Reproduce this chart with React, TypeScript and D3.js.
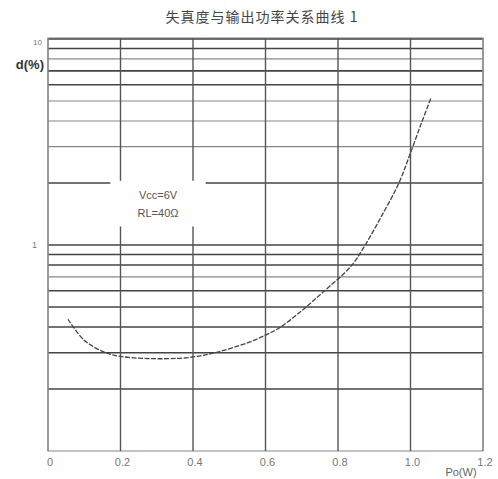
import React from 'react';
import * as d3 from 'd3';

// curve: output power (W) vs distortion (%)
const powerW = [0.055, 0.1, 0.157, 0.2, 0.276, 0.386, 0.46, 0.55, 0.6, 0.64, 0.7, 0.756, 0.836, 0.875, 0.92, 0.968, 1.0, 1.03, 1.057];
const distortion = [0.436, 0.345, 0.301, 0.288, 0.281, 0.284, 0.3, 0.335, 0.365, 0.398, 0.48, 0.585, 0.79, 1.0, 1.38, 2.0, 2.8, 3.9, 5.2];

const xTicks = [0, 0.2, 0.4, 0.6, 0.8, 1.0, 1.2];
const xTickLabels = ['0', '0.2', '0.4', '0.6', '0.8', '1.0', '1.2'];
const yGrid = [0.2, 0.3, 0.4, 0.5, 0.6, 0.7, 0.8, 0.9, 1, 2, 3, 4, 5, 6, 7, 8, 9, 10];
const yLight = [3, 4, 5, 8, 0.7];
const yTickLabels = [{ v: 10, t: '10' }, { v: 1, t: '1' }];

const title = '失真度与输出功率关系曲线  1';
const noteLines = ['Vcc=6V', 'RL=40Ω'];

const W = 498;
const H = 479;
const m = { left: 48, right: 483, top: 39, bottom: 451 };

const App: React.FC = () => {
  if (typeof document !== 'undefined') document.body.style.margin = '0';

  const x = d3.scaleLinear().domain([0, 1.2]).range([m.left, m.right]);
  const y = d3.scaleLog().domain([0.1, 10]).range([m.bottom, m.top]);

  const pts: [number, number][] = powerW.map((p, i) => [x(p), y(distortion[i])]);
  const line = d3.line().curve(d3.curveCatmullRom.alpha(0.5))(pts) || '';

  // white patch behind the note, it cuts the grid
  const box = { x0: x(0.172), x1: x(0.435), y0: y(2.05), y1: y(1.23) };

  return (
    <svg width={W} height={H} style={{ display: 'block', background: '#fff' }}>
      <text x={262} y={22} textAnchor="middle" fontFamily="'Noto Sans CJK SC'" fontSize={14} letterSpacing={1} fill="#444">
        {title}
      </text>

      {/* frame */}
      <rect x={m.left} y={m.top - 1} width={m.right - m.left} height={m.bottom - m.top + 1} fill="none" stroke="#999" strokeWidth={1.2} />

      {/* horizontal grid */}
      {yGrid.map(v => (
        <line key={'h' + v} x1={m.left} x2={m.right} y1={y(v)} y2={y(v)}
          stroke={yLight.includes(v) ? '#888' : '#444'} strokeWidth={yLight.includes(v) ? 1.2 : 1.6} />
      ))}

      {/* vertical grid */}
      {xTicks.map(v => (
        <line key={'v' + v} x1={x(v)} x2={x(v)} y1={m.top - 1} y2={m.bottom}
          stroke={v === 0 || v === 1.2 ? '#888' : '#555'} strokeWidth={1.4} />
      ))}

      <rect x={box.x0} y={box.y0} width={box.x1 - box.x0} height={box.y1 - box.y0} fill="#fff" />
      {noteLines.map((t, i) => (
        <text key={t} x={(box.x0 + box.x1) / 2} y={199 + i * 18} textAnchor="middle"
          fontFamily="'Liberation Sans', Arial, sans-serif" fontSize={11} fill="#555">{t}</text>
      ))}

      <path d={line} fill="none" stroke="#444" strokeWidth={1.3} strokeDasharray="5 1.5" />

      {/* axis labels */}
      {xTicks.map((v, i) => (
        <text key={'xl' + v} x={x(v) + 2} y={466} textAnchor="middle"
          fontFamily="'Liberation Sans', Arial, sans-serif" fontSize={11} fill="#777">{xTickLabels[i]}</text>
      ))}
      <text x={461} y={476} textAnchor="middle" fontFamily="'Liberation Sans', Arial, sans-serif" fontSize={11} fill="#666">Po(W)</text>

      {yTickLabels.map(d => (
        <text key={'yl' + d.t} x={d.v === 10 ? 42 : 37} y={y(d.v) + (d.v === 10 ? 6 : 3)} textAnchor="end"
          fontFamily="'Liberation Sans', Arial, sans-serif" fontSize={d.v === 10 ? 8 : 9} fill="#777">{d.t}</text>
      ))}
      <text x={44} y={69} textAnchor="end" fontFamily="'Liberation Sans', Arial, sans-serif" fontSize={13} fontWeight="bold" fill="#333">d(%)</text>
    </svg>
  );
};

export default App;
